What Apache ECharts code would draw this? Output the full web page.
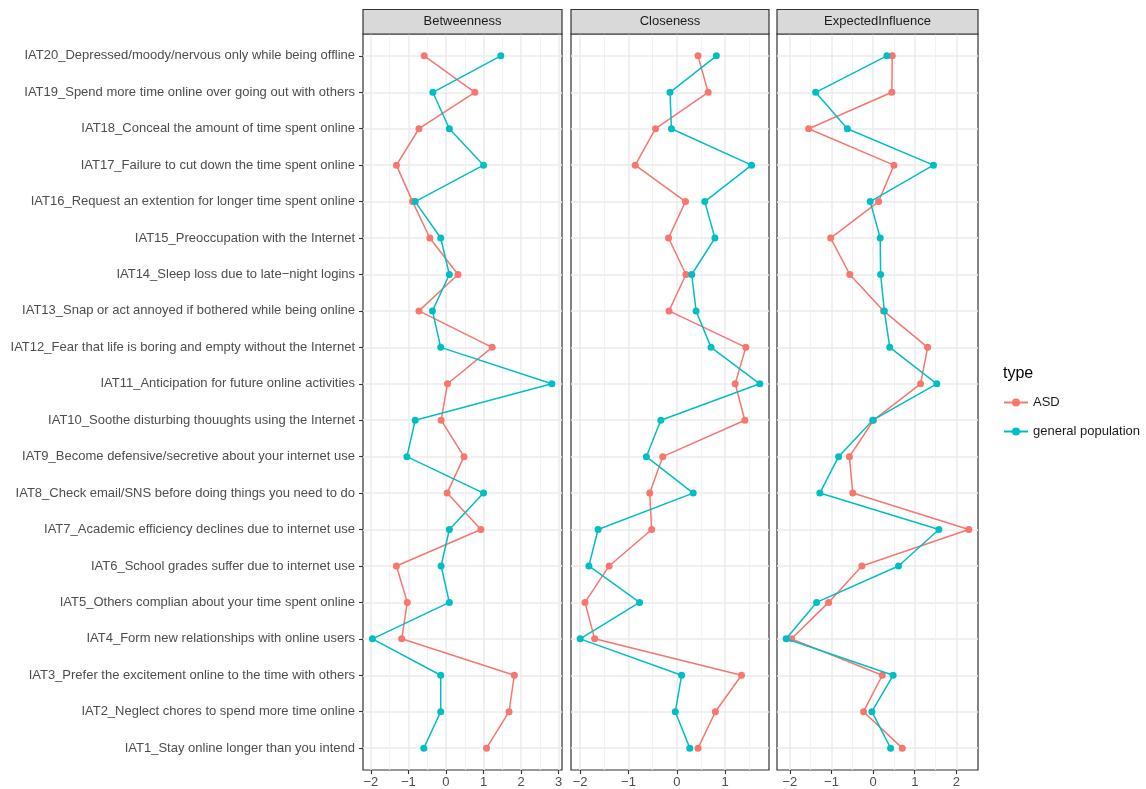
<!DOCTYPE html>
<html>
<head>
<meta charset="utf-8">
<script src="https://cdn.jsdelivr.net/npm/echarts@6/dist/echarts.min.js"></script>
<style>
html,body{margin:0;padding:0;background:#fff;}
#chart{width:1146px;height:789px;}
</style>
</head>
<body>
<div id="chart"></div>
<script>
// ---- data (IAT1 ... IAT20, bottom to top) ----
const categories = [
  "IAT1_Stay online longer than you intend",
  "IAT2_Neglect chores to spend more time online",
  "IAT3_Prefer the excitement online to the time with others",
  "IAT4_Form new relationships with online users",
  "IAT5_Others complian about your time spent online",
  "IAT6_School grades suffer due to internet use",
  "IAT7_Academic efficiency declines due to internet use",
  "IAT8_Check email/SNS before doing things you need to do",
  "IAT9_Become defensive/secretive about your internet use",
  "IAT10_Soothe disturbing thouughts using the Internet",
  "IAT11_Anticipation for future online activities",
  "IAT12_Fear that life is boring and empty without the Internet",
  "IAT13_Snap or act annoyed if bothered while being online",
  "IAT14_Sleep loss due to late\u2212night logins",
  "IAT15_Preoccupation with the Internet",
  "IAT16_Request an extention for longer time spent online",
  "IAT17_Failure to cut down the time spent online",
  "IAT18_Conceal the amount of time spent online",
  "IAT19_Spend more time online over going out with others",
  "IAT20_Depressed/moody/nervous only while being offline"
];
const panels = ["Betweenness", "Closeness", "ExpectedInfluence"];
const groups = ["ASD", "general population"];

const betweennessASD = [1.08, 1.68, 1.82, -1.18, -1.03, -1.32, 0.93, 0.03, 0.48, -0.13, 0.04, 1.23, -0.72, 0.32, -0.43, -0.89, -1.32, -0.72, 0.77, -0.58];
const betweennessGen = [-0.59, -0.14, -0.14, -1.96, 0.09, -0.13, 0.09, 1.00, -1.04, -0.82, 2.82, -0.14, -0.36, 0.09, -0.14, -0.82, 1.00, 0.09, -0.35, 1.46];
const closenessASD = [0.44, 0.80, 1.34, -1.70, -1.90, -1.40, -0.52, -0.56, -0.29, 1.41, 1.21, 1.43, -0.16, 0.19, -0.17, 0.18, -0.86, -0.44, 0.65, 0.44];
const closenessGen = [0.27, -0.03, 0.10, -2.00, -0.77, -1.82, -1.63, 0.34, -0.63, -0.33, 1.72, 0.71, 0.40, 0.31, 0.79, 0.58, 1.55, -0.11, -0.14, 0.82];
const expectedASD = [0.70, -0.23, 0.22, -1.96, -1.07, -0.27, 2.30, -0.49, -0.57, 0.01, 1.14, 1.31, 0.25, -0.56, -1.02, 0.13, 0.50, -1.55, 0.45, 0.46];
const expectedGen = [0.42, -0.03, 0.48, -2.09, -1.36, 0.61, 1.58, -1.28, -0.83, -0.01, 1.53, 0.40, 0.27, 0.18, 0.17, -0.07, 1.45, -0.62, -1.38, 0.33];

const xTicks = [[-2, -1, 0, 1, 2, 3], [-2, -1, 0, 1], [-2, -1, 0, 1, 2]];
const xMinorTicks = [[-1.5, -0.5, 0.5, 1.5, 2.5], [-1.5, -0.5, 0.5, 1.5], [-1.5, -0.5, 0.5, 1.5]];
const xRanges = [[-2.21, 3.09], [-2.19, 1.91], [-2.31, 2.52]];

// ---- layout / style ----
const colors = ["#F8766D", "#00BFC4"];
const panelLeft = [363, 571, 777];
const panelWidth = [199, 198, 201];
const panelTop = 34, panelHeight = 738, stripTop = 9.5;
const yTicks = categories.map((c, i) => i + 1);

const seriesData = [[betweennessASD, betweennessGen], [closenessASD, closenessGen], [expectedASD, expectedGen]];

const grid = [], xAxis = [], yAxis = [], series = [], graphics = [];
panels.forEach((p, k) => {
  grid.push({left: panelLeft[k], top: panelTop, width: panelWidth[k], height: panelHeight,
    show: true, borderColor: "#333333", borderWidth: 1.2, backgroundColor: "#fff", containLabel: false});
  // major x axis
  xAxis.push({type: "value", gridIndex: k, min: xRanges[k][0], max: xRanges[k][1], position: "bottom",
    axisLine: {show: false, onZero: false},
    axisTick: {show: true, length: 4, lineStyle: {color: "#333333", width: 1.1}, customValues: xTicks[k]},
    axisLabel: {show: true, color: "#4D4D4D", fontSize: 13, fontFamily: "Liberation Sans, Arial", margin: 6,
      customValues: xTicks[k], formatter: v => (v < 0 ? "\u2212" + Math.abs(v) : String(v))},
    splitLine: {show: true, lineStyle: {color: "#EBEBEB", width: 1.5}}
  });
  // minor x gridlines
  xAxis.push({type: "value", gridIndex: k, min: xRanges[k][0], max: xRanges[k][1], position: "top",
    axisLine: {show: false, onZero: false},
    axisTick: {show: false, customValues: xMinorTicks[k]},
    axisLabel: {show: false, customValues: xMinorTicks[k]},
    splitLine: {show: true, lineStyle: {color: "#F0F0F0", width: 0.9}}
  });
  yAxis.push({type: "value", gridIndex: k, min: 0.4, max: 20.6, position: "left",
    axisLine: {show: false, onZero: false},
    axisTick: {show: k === 0, length: 4, lineStyle: {color: "#333333", width: 1.1}, customValues: yTicks},
    axisLabel: {show: k === 0, color: "#4D4D4D", fontSize: 13, fontFamily: "Liberation Sans, Arial", margin: 8,
      padding: [3, 0, 0, 0],
      customValues: yTicks, formatter: v => categories[Math.round(v) - 1]},
    splitLine: {show: true, lineStyle: {color: "#EBEBEB", width: 1.5}}
  });
  groups.forEach((g, j) => {
    series.push({type: "line", name: g, xAxisIndex: 2 * k, yAxisIndex: k,
      data: seriesData[k][j].map((v, i) => [v, i + 1]),
      symbol: "circle", symbolSize: 7, showSymbol: true,
      lineStyle: {color: colors[j], width: 1.5},
      itemStyle: {color: colors[j]},
      z: 2 + j, animation: false});
  });
  graphics.push({type: "rect", shape: {x: panelLeft[k], y: stripTop, width: panelWidth[k], height: panelTop - stripTop},
    style: {fill: "#D9D9D9", stroke: "#333333", lineWidth: 1.2}, z: 10});
  graphics.push({type: "text", x: panelLeft[k] + panelWidth[k] / 2, y: (stripTop + panelTop) / 2,
    style: {text: p, fill: "#1A1A1A", fontSize: 13, fontFamily: "Liberation Sans, Arial", align: "center", verticalAlign: "middle"}, z: 11});
});

const chart = echarts.init(document.getElementById("chart"), null, {renderer: "canvas"});
chart.setOption({
  backgroundColor: "#ffffff",
  animation: false,
  title: {text: "type", left: 1003, top: 366, padding: 0, textStyle: {fontSize: 16, fontWeight: "normal", color: "#000", fontFamily: "Liberation Sans, Arial"}},
  legend: {data: groups, orient: "vertical", left: 1003, top: 396, padding: 0, itemWidth: 24, itemHeight: 10, itemGap: 16,
    textStyle: {fontSize: 13, color: "#1A1A1A", fontFamily: "Liberation Sans, Arial"}, itemGap2: 0, selectedMode: false},
  grid: grid,
  xAxis: xAxis,
  yAxis: yAxis,
  series: series,
  graphic: graphics
});
</script>
</body>
</html>
